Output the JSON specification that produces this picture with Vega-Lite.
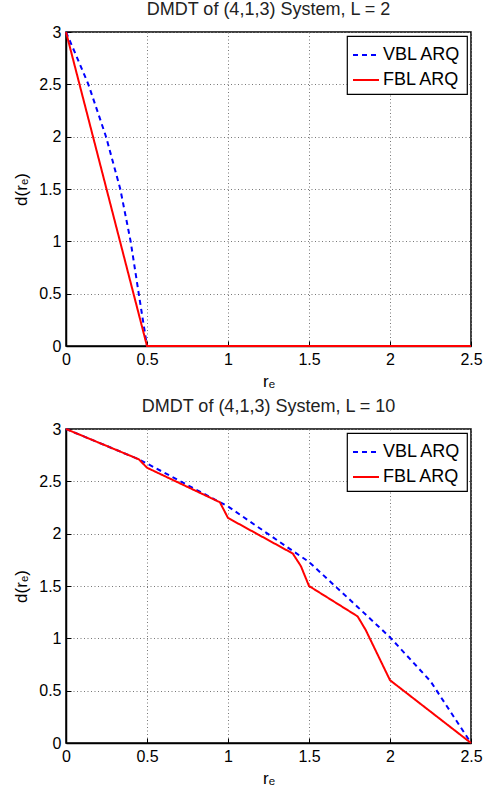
{
  "$schema": "https://vega.github.io/schema/vega-lite/v6.json",
  "background": "white",
  "autosize": {"type": "pad"},
  "padding": {"left": 12, "top": 0, "right": 12, "bottom": 0},
  "config": {
    "font": "Liberation Sans",
    "view": {"stroke": "black", "strokeWidth": 1.5},
    "axis": {
      "labelFont": "Liberation Sans", "labelFontSize": 16, "labelColor": "black",
      "titleFont": "Liberation Sans", "titleFontSize": 17, "titleColor": "black", "titleFontWeight": "normal",
      "domainColor": "black", "domainWidth": 1.5,
      "gridColor": "#777777", "gridDash": [1, 2.5], "gridWidth": 1, "gridOpacity": 1,
      "ticks": true, "tickSize": -5, "tickColor": "black", "tickWidth": 1,
      "labelPadding": 10, "labelFlush": false, "labelOverlap": false, "format": "~g"
    },
    "title": {"font": "Liberation Sans", "fontSize": 18, "fontWeight": "normal", "color": "#222222", "offset": 5},
    "legend": {
      "orient": "top-right", "offset": 4, "strokeColor": "black", "fillColor": "white", "strokeWidth": 1.2,
      "padding": 5, "labelFont": "Liberation Sans", "labelFontSize": 18, "labelColor": "black",
      "symbolType": "stroke", "symbolSize": 676, "symbolStrokeWidth": 2, "rowPadding": 2, "labelOffset": 3, "cornerRadius": 0
    },
    "concat": {"spacing": 7}
  },
  "datasets": {
    "L2": [
      {"r": 0, "d": 3, "series": "VBL ARQ"},
      {"r": 0.056, "d": 2.8, "series": "VBL ARQ"},
      {"r": 0.138, "d": 2.5, "series": "VBL ARQ"},
      {"r": 0.247, "d": 2.0, "series": "VBL ARQ"},
      {"r": 0.335, "d": 1.5, "series": "VBL ARQ"},
      {"r": 0.399, "d": 1.0, "series": "VBL ARQ"},
      {"r": 0.449, "d": 0.5, "series": "VBL ARQ"},
      {"r": 0.5, "d": 0, "series": "VBL ARQ"},
      {"r": 2.5, "d": 0, "series": "VBL ARQ"},
      {"r": 0, "d": 3, "series": "FBL ARQ"},
      {"r": 0.5, "d": 0, "series": "FBL ARQ"},
      {"r": 2.5, "d": 0, "series": "FBL ARQ"}
    ],
    "L10": [
      {"r": 0, "d": 3, "series": "VBL ARQ"},
      {"r": 0.45, "d": 2.71, "series": "VBL ARQ"},
      {"r": 0.5, "d": 2.67, "series": "VBL ARQ"},
      {"r": 0.95, "d": 2.3, "series": "VBL ARQ"},
      {"r": 1.0, "d": 2.26, "series": "VBL ARQ"},
      {"r": 1.4, "d": 1.835, "series": "VBL ARQ"},
      {"r": 1.5, "d": 1.73, "series": "VBL ARQ"},
      {"r": 1.8, "d": 1.3, "series": "VBL ARQ"},
      {"r": 2.0, "d": 1.01, "series": "VBL ARQ"},
      {"r": 2.25, "d": 0.59, "series": "VBL ARQ"},
      {"r": 2.5, "d": 0, "series": "VBL ARQ"},
      {"r": 0, "d": 3, "series": "FBL ARQ"},
      {"r": 0.45, "d": 2.71, "series": "FBL ARQ"},
      {"r": 0.5, "d": 2.63, "series": "FBL ARQ"},
      {"r": 0.95, "d": 2.3, "series": "FBL ARQ"},
      {"r": 1.0, "d": 2.15, "series": "FBL ARQ"},
      {"r": 1.4, "d": 1.81, "series": "FBL ARQ"},
      {"r": 1.45, "d": 1.69, "series": "FBL ARQ"},
      {"r": 1.5, "d": 1.5, "series": "FBL ARQ"},
      {"r": 1.8, "d": 1.21, "series": "FBL ARQ"},
      {"r": 1.85, "d": 1.08, "series": "FBL ARQ"},
      {"r": 2.0, "d": 0.6, "series": "FBL ARQ"},
      {"r": 2.5, "d": 0, "series": "FBL ARQ"}
    ]
  },
  "resolve": {
    "scale": {"color": "independent", "strokeDash": "independent"},
    "legend": {"color": "independent", "strokeDash": "independent"}
  },
  "vconcat": [
    {
      "title": "DMDT of (4,1,3) System, L = 2",
      "width": 405, "height": 314,
      "data": {"name": "L2"},
      "encoding": {
        "x": {"field": "r", "type": "quantitative", "scale": {"domain": [0, 2.5], "nice": false}, "axis": {"title": "rₑ", "values": [0, 0.5, 1, 1.5, 2, 2.5], "grid": true, "titlePadding": 6}},
        "y": {"field": "d", "type": "quantitative", "scale": {"domain": [0, 3], "nice": false}, "axis": {"title": "d(rₑ)", "values": [0, 0.5, 1, 1.5, 2, 2.5, 3], "grid": true, "titlePadding": 8}},
        "color": {"field": "series", "type": "nominal", "scale": {"domain": ["VBL ARQ", "FBL ARQ"], "range": ["#0000ff", "#ff0000"]}, "legend": {"title": null}},
        "strokeDash": {"field": "series", "type": "nominal", "scale": {"domain": ["VBL ARQ", "FBL ARQ"], "range": [[5, 4], [1, 0]]}, "legend": {"title": null}}
      },
      "layer": [
        {"transform": [{"filter": "datum.series === 'VBL ARQ'"}], "mark": {"type": "line", "strokeWidth": 2, "strokeCap": "butt"}},
        {"transform": [{"filter": "datum.series === 'FBL ARQ'"}], "mark": {"type": "line", "strokeWidth": 2, "strokeCap": "butt"}}
      ]
    },
    {
      "title": "DMDT of (4,1,3) System, L = 10",
      "width": 405, "height": 314,
      "data": {"name": "L10"},
      "encoding": {
        "x": {"field": "r", "type": "quantitative", "scale": {"domain": [0, 2.5], "nice": false}, "axis": {"title": "rₑ", "values": [0, 0.5, 1, 1.5, 2, 2.5], "grid": true, "titlePadding": 6}},
        "y": {"field": "d", "type": "quantitative", "scale": {"domain": [0, 3], "nice": false}, "axis": {"title": "d(rₑ)", "values": [0, 0.5, 1, 1.5, 2, 2.5, 3], "grid": true, "titlePadding": 8}},
        "color": {"field": "series", "type": "nominal", "scale": {"domain": ["VBL ARQ", "FBL ARQ"], "range": ["#0000ff", "#ff0000"]}, "legend": {"title": null}},
        "strokeDash": {"field": "series", "type": "nominal", "scale": {"domain": ["VBL ARQ", "FBL ARQ"], "range": [[5, 4], [1, 0]]}, "legend": {"title": null}}
      },
      "layer": [
        {"transform": [{"filter": "datum.series === 'VBL ARQ'"}], "mark": {"type": "line", "strokeWidth": 2, "strokeCap": "butt"}},
        {"transform": [{"filter": "datum.series === 'FBL ARQ'"}], "mark": {"type": "line", "strokeWidth": 2, "strokeCap": "butt"}}
      ]
    }
  ]
}
